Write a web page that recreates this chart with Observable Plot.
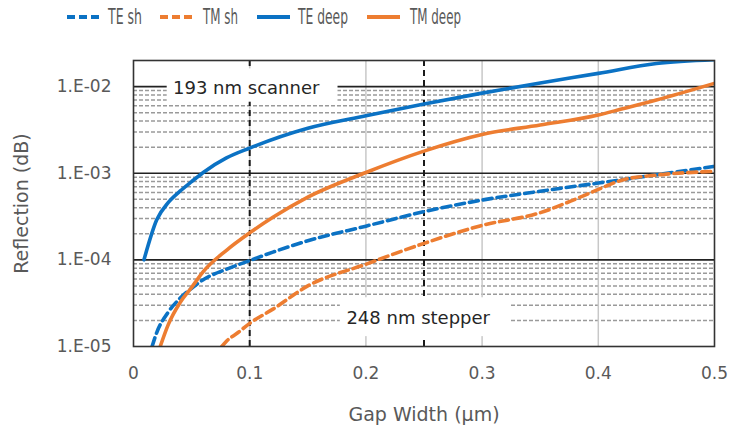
<!DOCTYPE html>
<html>
<head>
<meta charset="utf-8">
<script src="https://cdn.jsdelivr.net/npm/d3@7"></script>
<script src="https://cdn.jsdelivr.net/npm/@observablehq/plot@0.6"></script>
<style>
  html, body { margin: 0; padding: 0; background: #fff; }
  #legend svg, #chart svg { display: block; }
</style>
</head>
<body>
<div id="legend"></div>
<div id="chart"></div>
<script>
// ---- data ----
const seriesNames = ["TE sh", "TM sh", "TE deep", "TM deep"];
const seriesColors = ["#0B72C4", "#ED7D31", "#0B72C4", "#ED7D31"];
const seriesDashed = [true, true, false, false];

const teShX = [0.016, 0.02, 0.03, 0.04, 0.05, 0.06, 0.08, 0.1, 0.12, 0.15, 0.2, 0.25, 0.3, 0.35, 0.4, 0.45, 0.5];
const teShY = [1.0e-5, 1.45e-5, 2.5e-5, 3.6e-5, 4.7e-5, 5.9e-5, 7.8e-5, 9.8e-5, 1.23e-4, 1.66e-4, 2.45e-4, 3.6e-4, 4.9e-4, 6.2e-4, 7.7e-4, 9.6e-4, 1.2e-3];

const tmShX = [0.076, 0.08, 0.09, 0.1, 0.12, 0.15, 0.2, 0.25, 0.3, 0.35, 0.38, 0.4, 0.42, 0.45, 0.5];
const tmShY = [1.0e-5, 1.15e-5, 1.45e-5, 1.85e-5, 2.7e-5, 5.0e-5, 8.9e-5, 1.55e-4, 2.5e-4, 3.5e-4, 5.0e-4, 6.5e-4, 8.3e-4, 9.5e-4, 1.05e-3];

const teDeepX = [0.009, 0.02, 0.03, 0.04, 0.05, 0.06, 0.08, 0.1, 0.15, 0.2, 0.25, 0.3, 0.35, 0.4, 0.45, 0.5];
const teDeepY = [1.0e-4, 2.9e-4, 4.6e-4, 6.2e-4, 8.0e-4, 1.02e-3, 1.5e-3, 1.95e-3, 3.3e-3, 4.6e-3, 6.3e-3, 8.4e-3, 1.1e-2, 1.42e-2, 1.85e-2, 2.05e-2];

const tmDeepX = [0.023, 0.03, 0.04, 0.05, 0.06, 0.08, 0.1, 0.12, 0.15, 0.2, 0.25, 0.3, 0.35, 0.4, 0.42, 0.45, 0.5];
const tmDeepY = [1.0e-5, 1.8e-5, 3.2e-5, 4.8e-5, 7.3e-5, 1.29e-4, 2.05e-4, 3.1e-4, 5.3e-4, 1.02e-3, 1.8e-3, 2.8e-3, 3.6e-3, 4.7e-3, 5.5e-3, 7.0e-3, 1.09e-2];

const xTicks = [0, 0.1, 0.2, 0.3, 0.4, 0.5];
const xTickLabels = ["0", "0.1", "0.2", "0.3", "0.4", "0.5"];
const yTicks = [1e-5, 1e-4, 1e-3, 1e-2];
const yTickLabels = ["1.E-05", "1.E-04", "1.E-03", "1.E-02"];
const xTitle = "Gap Width (µm)";
const yTitle = "Reflection (dB)";

const markerLinesX = [0.1, 0.25];
const annotations = [
  {label: "193 nm scanner", x: 0.097, y: 9.5e-3, x1: 0.029, x2: 0.176, y1: 6.6e-3, y2: 1.6e-2},
  {label: "248 nm stepper", x: 0.245, y: 2.1e-5, x1: 0.178, x2: 0.324, y1: 1.3e-5, y2: 3.65e-5}
];

// ---- build ----
const seriesXs = [teShX, tmShX, teDeepX, tmDeepX];
const seriesYs = [teShY, tmShY, teDeepY, tmDeepY];
const rows = [];
seriesNames.forEach((name, s) => {
  seriesXs[s].forEach((x, i) => rows.push({series: name, x, y: seriesYs[s][i]}));
});

const yDomain = [1e-5, 2e-2];
const minorY = [];
for (const d of yTicks) for (let k = 2; k <= 9; k++) { const v = k * d; if (v < yDomain[1] * 0.999) minorY.push(v); }
const majorY = yTicks.slice(1);
const vGrid = xTicks.slice(1, -1);

const lineMarks = seriesNames.map((name, s) => Plot.line(rows.filter(r => r.series === name), {
  x: "x", y: "y", stroke: seriesColors[s], strokeWidth: 3.6, curve: "monotone-x",
  strokeDasharray: seriesDashed[s] ? "9,5" : null, clip: true
}));

const font = "DejaVu Sans";
const chart = Plot.plot({
  width: 729, height: 392,
  marginLeft: 133, marginRight: 15, marginTop: 25, marginBottom: 81,
  style: {fontFamily: font, color: "#595959", background: "#fff"},
  x: {domain: [0, 0.5]},
  y: {type: "log", domain: yDomain},
  marks: [
    Plot.ruleY(minorY, {stroke: "#9a9a9a", strokeWidth: 1.5, strokeDasharray: "4,2"}),
    Plot.ruleX(vGrid, {stroke: "#c8c8c8", strokeWidth: 1.5}),
    Plot.ruleY(majorY, {stroke: "#222", strokeWidth: 1.6}),
    Plot.ruleX(markerLinesX, {stroke: "#1a1a1a", strokeWidth: 2, strokeDasharray: "6,4"}),
    Plot.rect(annotations, {x1: "x1", x2: "x2", y1: "y1", y2: "y2", fill: "white"}),
    Plot.text(annotations, {x: "x", y: "y", text: "label", fontSize: 18, fill: "#262626", textAnchor: "middle", lineAnchor: "middle"}),
    ...lineMarks,
    Plot.frame({stroke: "#333", strokeWidth: 1.6}),
    Plot.axisX({ticks: xTicks, tickFormat: d => xTickLabels[xTicks.indexOf(d)], tickSize: 0, tickPadding: 20, fontSize: 17, label: null}),
    Plot.axisY({ticks: yTicks, tickFormat: d => yTickLabels[yTicks.indexOf(d)], tickSize: 0, tickPadding: 22, fontSize: 17, label: null}),
    Plot.text([xTitle], {frameAnchor: "bottom", text: d => d, dy: 68, fontSize: 19, fill: "#595959", lineAnchor: "middle"}),
    Plot.text([yTitle], {frameAnchor: "left", text: d => d, dx: -112, rotate: -90, fontSize: 19, fill: "#595959", textAnchor: "middle", lineAnchor: "middle"})
  ]
});
document.getElementById("chart").appendChild(chart);

// ---- legend (SVG strip above the chart) ----
const legendSwX = [67, 160, 257, 367];
const legendLbX = [108, 203, 298, 410];
const legendLbW = [34, 35, 50, 51];
const NS = "http://www.w3.org/2000/svg";
const lsvg = document.createElementNS(NS, "svg");
lsvg.setAttribute("width", 729); lsvg.setAttribute("height", 35);
seriesNames.forEach((name, s) => {
  const ln = document.createElementNS(NS, "line");
  ln.setAttribute("x1", legendSwX[s]); ln.setAttribute("x2", legendSwX[s] + 33);
  ln.setAttribute("y1", 17); ln.setAttribute("y2", 17);
  ln.setAttribute("stroke", seriesColors[s]); ln.setAttribute("stroke-width", 4);
  if (seriesDashed[s]) ln.setAttribute("stroke-dasharray", "8,4");
  lsvg.appendChild(ln);
  const t = document.createElementNS(NS, "text");
  t.setAttribute("x", legendLbX[s]); t.setAttribute("y", 24);
  t.setAttribute("font-family", "DejaVu Sans");
  t.setAttribute("font-size", 20.5);
  t.setAttribute("fill", "#595959");
  t.setAttribute("textLength", legendLbW[s]);
  t.setAttribute("lengthAdjust", "spacingAndGlyphs");
  t.textContent = name;
  lsvg.appendChild(t);
});
document.getElementById("legend").appendChild(lsvg);
</script>
</body>
</html>
